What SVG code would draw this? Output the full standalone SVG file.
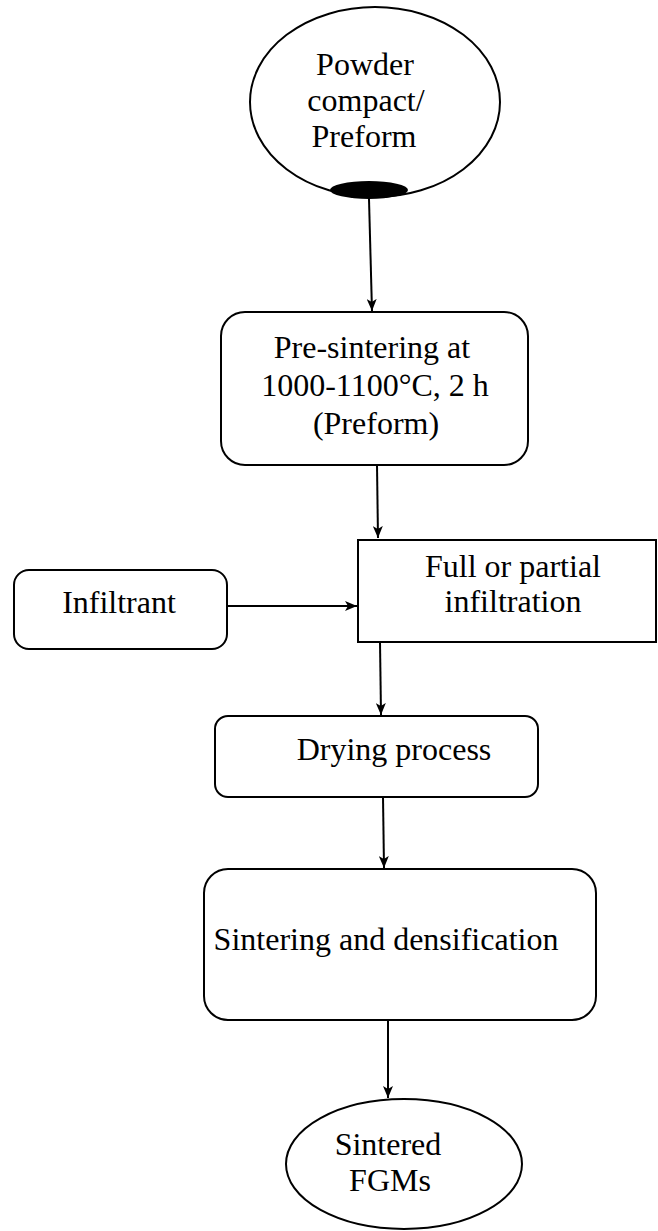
<svg xmlns="http://www.w3.org/2000/svg" width="658" height="1231" viewBox="0 0 658 1231">
  <style>
    .shape { fill: #ffffff; stroke: #000000; stroke-width: 2; }
    .label { font-family: "Liberation Serif", "Times New Roman", serif; font-size: 32px; fill: #000000; text-anchor: middle; }
    .wire { fill: none; stroke: #000000; stroke-width: 2; }
  </style>
  <defs>
    <marker id="arrow" viewBox="0 0 12 10" refX="12" refY="5" markerWidth="12" markerHeight="10" markerUnits="userSpaceOnUse" orient="auto">
      <path d="M0,0 L12,5 L0,10 L3,5 Z" fill="#000000"/>
    </marker>
  </defs>
  <rect width="658" height="1231" fill="#ffffff"/>

  <!-- Connectors -->
  <g id="connectors">
    <line class="wire" x1="369" y1="199" x2="372" y2="311" marker-end="url(#arrow)"/>
    <line class="wire" x1="377" y1="465" x2="378" y2="538" marker-end="url(#arrow)"/>
    <line class="wire" x1="227" y1="606" x2="357" y2="606" marker-end="url(#arrow)"/>
    <line class="wire" x1="380" y1="642" x2="381" y2="715" marker-end="url(#arrow)"/>
    <line class="wire" x1="383" y1="797" x2="384" y2="868" marker-end="url(#arrow)"/>
    <line class="wire" x1="388" y1="1020" x2="388" y2="1098" marker-end="url(#arrow)"/>
  </g>

  <!-- Start: powder compact / preform -->
  <g id="node-powder">
    <ellipse class="shape" cx="375" cy="102" rx="125" ry="95"/>
    <ellipse cx="369" cy="190" rx="39" ry="9" fill="#000000"/>
    <text class="label" x="365" y="75">Powder</text>
    <text class="label" x="366" y="111">compact/</text>
    <text class="label" x="364" y="147">Preform</text>
  </g>

  <!-- Pre-sintering -->
  <g id="node-presinter">
    <rect class="shape" x="221" y="312" width="307" height="153" rx="24" ry="24"/>
    <text class="label" x="372" y="358">Pre-sintering at</text>
    <text class="label" x="375" y="396">1000-1100°C, 2 h</text>
    <text class="label" x="376" y="434">(Preform)</text>
  </g>

  <!-- Infiltrant -->
  <g id="node-infiltrant">
    <rect class="shape" x="14" y="570" width="213" height="79" rx="15" ry="15"/>
    <text class="label" x="119" y="613">Infiltrant</text>
  </g>

  <!-- Infiltration -->
  <g id="node-infiltration">
    <rect class="shape" x="358" y="540" width="298" height="102"/>
    <text class="label" x="513" y="577">Full or partial</text>
    <text class="label" x="513" y="612">infiltration</text>
  </g>

  <!-- Drying -->
  <g id="node-drying">
    <rect class="shape" x="215" y="716" width="323" height="81" rx="13" ry="13"/>
    <text class="label" x="394" y="760">Drying process</text>
  </g>

  <!-- Sintering -->
  <g id="node-sintering">
    <rect class="shape" x="204" y="869" width="392" height="151" rx="24" ry="24"/>
    <text class="label" x="386" y="950">Sintering and densification</text>
  </g>

  <!-- End: sintered FGMs -->
  <g id="node-fgm">
    <ellipse class="shape" cx="404" cy="1164" rx="118" ry="65"/>
    <text class="label" x="388" y="1155">Sintered</text>
    <text class="label" x="390" y="1191">FGMs</text>
  </g>
</svg>
